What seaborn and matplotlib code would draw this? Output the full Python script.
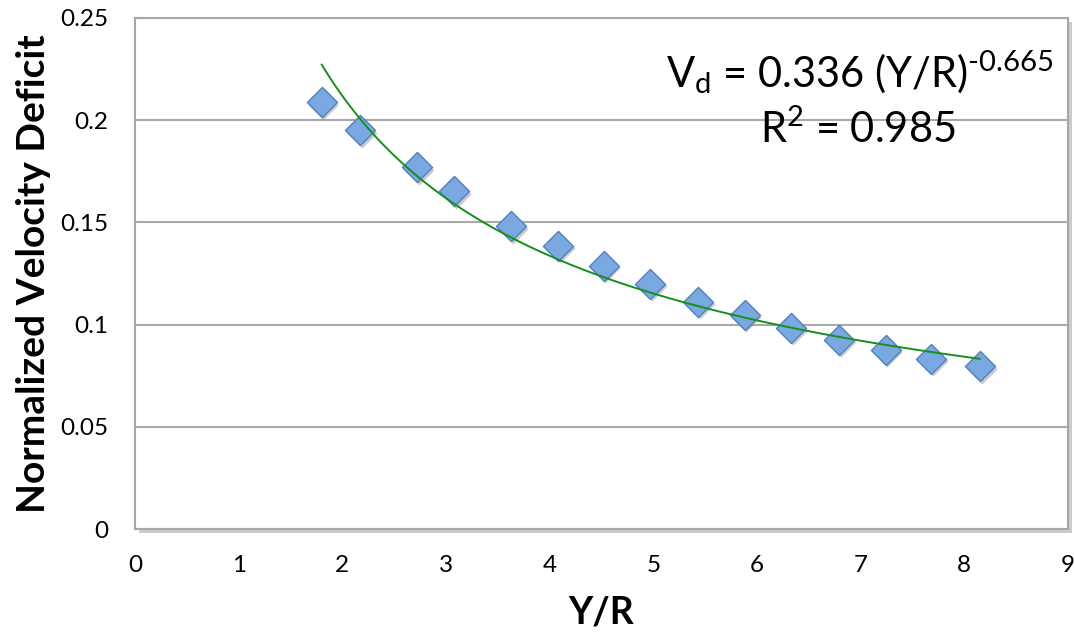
import numpy as np
import pandas as pd
import matplotlib
matplotlib.use("Agg")
import matplotlib.pyplot as plt
import matplotlib.transforms as mtransforms
import seaborn as sns

# Measured wake profile
y_over_r = [1.80, 2.17, 2.72, 3.08, 3.63, 4.08, 4.52, 4.97, 5.43, 5.88, 6.33, 6.79, 7.24, 7.68, 8.15]
velocity_deficit = [0.2087, 0.1951, 0.1770, 0.1652, 0.1480, 0.1387, 0.1289, 0.1200,
                    0.1111, 0.1049, 0.0984, 0.0926, 0.0877, 0.0832, 0.0796]

# Power-law fit coefficients
fit_coef = 0.336
fit_exp = "-0.665"
fit_r2 = 0.985

x_ticks = [0, 1, 2, 3, 4, 5, 6, 7, 8, 9]
y_ticks = [0, 0.05, 0.1, 0.15, 0.2, 0.25]
y_tick_labels = ["0", "0.05", "0.1", "0.15", "0.2", "0.25"]

sns.set_style("white")
plt.rcParams["font.family"] = ["Lato", "DejaVu Sans"]
plt.rcParams["text.color"] = "black"
plt.rcParams["mathtext.fontset"] = "custom"
plt.rcParams["mathtext.rm"] = "Lato"
plt.rcParams["mathtext.it"] = "Lato:italic"
plt.rcParams["mathtext.bf"] = "Lato:bold"

df = pd.DataFrame({"Y/R": y_over_r, "Vd": velocity_deficit})

fig = plt.figure(figsize=(10.74, 6.36), dpi=100)
ax = fig.add_axes([0.1257, 0.1682, 0.8687, 0.8035])

ax.set_xlim(0, 9)
ax.set_ylim(0, 0.25)

# horizontal gridlines
ax.set_yticks(y_ticks)
ax.set_yticklabels(y_tick_labels)
ax.set_xticks(x_ticks)
ax.yaxis.grid(True, color="#a9a9a9", linewidth=1.5)
ax.set_axisbelow(True)
for side in ["left", "right", "top", "bottom"]:
    ax.spines[side].set_color("#a6a6a6")
    ax.spines[side].set_linewidth(1.5)
ax.tick_params(axis="both", length=0, labelsize=17.5, colors="black")
ax.tick_params(axis="x", pad=19)
ax.tick_params(axis="y", pad=19)

# drop shadow for the plot frame
shadow = mtransforms.offset_copy(ax.transAxes, fig=fig, x=3, y=-3, units="points")
ax.add_patch(plt.Rectangle((0, 0), 1, 1, transform=shadow, facecolor="#9a9a9a",
                           edgecolor="none", alpha=0.5, zorder=-5, clip_on=False))
ax.add_patch(plt.Rectangle((0, 0), 1, 1, transform=ax.transAxes, facecolor="white",
                           edgecolor="none", zorder=-4, clip_on=False))

# marker shadows
marker_shadow = mtransforms.offset_copy(ax.transData, fig=fig, x=1.2, y=-1.8, units="points")
ax.scatter(y_over_r, velocity_deficit, marker="D", s=235, color="#8c8c8c",
           alpha=0.45, linewidths=0, transform=marker_shadow, zorder=2)

# data points
sns.scatterplot(data=df, x="Y/R", y="Vd", marker="D", s=235, color="#7aa9e2",
                edgecolor="#4f80c0", linewidth=1.0, ax=ax, zorder=3, legend=False)

# power-law trend line
x_fit = np.linspace(min(y_over_r), max(y_over_r), 200)
fit_df = pd.DataFrame({"Y/R": x_fit, "Vd": fit_coef * x_fit ** float(fit_exp)})
sns.lineplot(data=fit_df, x="Y/R", y="Vd", color="#16901a", linewidth=1.4, ax=ax, zorder=4)

ax.set_xlabel("Y/R", fontsize=27, fontweight="bold", labelpad=14, color="black")
ax.set_ylabel("Normalized Velocity Deficit", fontsize=28, fontweight="bold",
              labelpad=7, color="black")

ax.text(0.984, 0.865, rf"V$_\mathrm{{d}}$ = {fit_coef} (Y/R)$^{{\text{{{fit_exp}}}}}$",
        transform=ax.transAxes, ha="right", va="baseline", fontsize=30, color="black")
ax.text(0.775, 0.755, rf"R$^\mathrm{{2}}$ = {fit_r2}", transform=ax.transAxes,
        ha="center", va="baseline", fontsize=30, color="black")

fig.savefig("out.png", dpi=100)
